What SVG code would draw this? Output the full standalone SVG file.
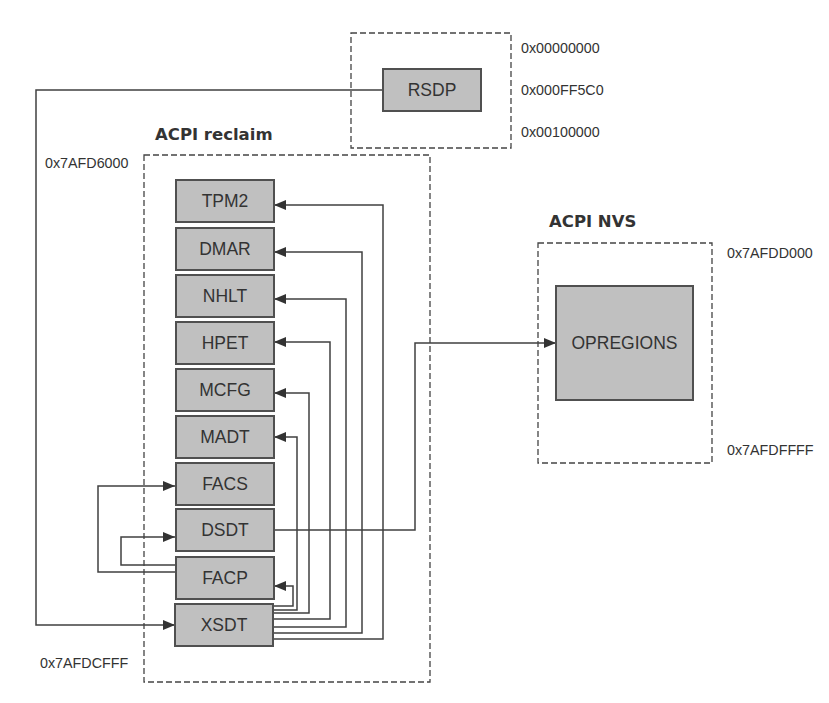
<svg xmlns="http://www.w3.org/2000/svg" width="829" height="703" viewBox="0 0 829 703">
<style>
.bg{fill:#ffffff}
.region{fill:none;stroke:#444;stroke-width:1.3;stroke-dasharray:6,3}
.box rect{fill:#c0c0c0;stroke:#505050;stroke-width:2}
.box text{font-family:"Liberation Sans",Arial,sans-serif;font-size:17.5px;fill:#333;text-anchor:middle}
.addr{font-family:"Liberation Sans",Arial,sans-serif;font-size:14.3px;fill:#333}
.title{font-family:"DejaVu Sans",Verdana,sans-serif;font-size:16.5px;font-weight:bold;fill:#333}
.conn path{fill:none;stroke:#404040;stroke-width:1.5;marker-end:url(#arr)}
</style>
<defs>
<marker id="arr" markerUnits="userSpaceOnUse" markerWidth="12" markerHeight="10" refX="12" refY="5" orient="auto">
<path d="M0,0 L12,5 L0,10 z" fill="#333"/>
</marker>
</defs>
<rect class="bg" x="0" y="0" width="829" height="703"/>

<g id="regions">
<rect class="region" x="351" y="33" width="160" height="115"/>
<rect class="region" x="144" y="155" width="286" height="527"/>
<rect class="region" x="538" y="243" width="174" height="220"/>
</g>

<g id="labels">
<text class="title" x="155" y="140">ACPI reclaim</text>
<text class="title" x="549" y="227">ACPI NVS</text>
<text class="addr" x="521" y="53">0x00000000</text>
<text class="addr" x="521" y="95">0x000FF5C0</text>
<text class="addr" x="521" y="137">0x00100000</text>
<text class="addr" x="45" y="168">0x7AFD6000</text>
<text class="addr" x="40" y="668">0x7AFDCFFF</text>
<text class="addr" x="727" y="258">0x7AFDD000</text>
<text class="addr" x="727" y="455">0x7AFDFFFF</text>
</g>

<g class="conn" id="connectors">
<path d="M383,90 H36 V625 H175"/>
<path d="M273,639 H383 V205 H274"/>
<path d="M273,633 H362 V252 H274"/>
<path d="M273,627 H346 V299 H274"/>
<path d="M273,619 H330 V342 H274"/>
<path d="M273,613 H309 V393 H274"/>
<path d="M273,610 H297 V437 H274"/>
<path d="M273,606 H293 V586 H274"/>
<path d="M175,572 H98 V486 H175"/>
<path d="M175,565 H121 V537 H175"/>
<path d="M274,530 H415 V343 H556"/>
</g>

<g class="box" id="RSDP"><rect x="383" y="69" width="98" height="42"/><text x="432" y="96">RSDP</text></g>
<g class="box" id="TPM2"><rect x="176" y="180" width="98" height="42"/><text x="225" y="207">TPM2</text></g>
<g class="box" id="DMAR"><rect x="176" y="228" width="98" height="42"/><text x="225" y="255">DMAR</text></g>
<g class="box" id="NHLT"><rect x="176" y="275" width="98" height="42"/><text x="225" y="302">NHLT</text></g>
<g class="box" id="HPET"><rect x="176" y="322" width="98" height="42"/><text x="225" y="349">HPET</text></g>
<g class="box" id="MCFG"><rect x="176" y="369" width="98" height="42"/><text x="225" y="396">MCFG</text></g>
<g class="box" id="MADT"><rect x="176" y="416" width="98" height="42"/><text x="225" y="443">MADT</text></g>
<g class="box" id="FACS"><rect x="176" y="463" width="98" height="42"/><text x="225" y="490">FACS</text></g>
<g class="box" id="DSDT"><rect x="176" y="509" width="98" height="42"/><text x="225" y="536">DSDT</text></g>
<g class="box" id="FACP"><rect x="176" y="557" width="98" height="42"/><text x="225" y="584">FACP</text></g>
<g class="box" id="XSDT"><rect x="175" y="604" width="98" height="42"/><text x="224" y="631">XSDT</text></g>
<g class="box" id="OPREGIONS"><rect x="556" y="286" width="137" height="114"/><text x="624.5" y="349">OPREGIONS</text></g>
</svg>
